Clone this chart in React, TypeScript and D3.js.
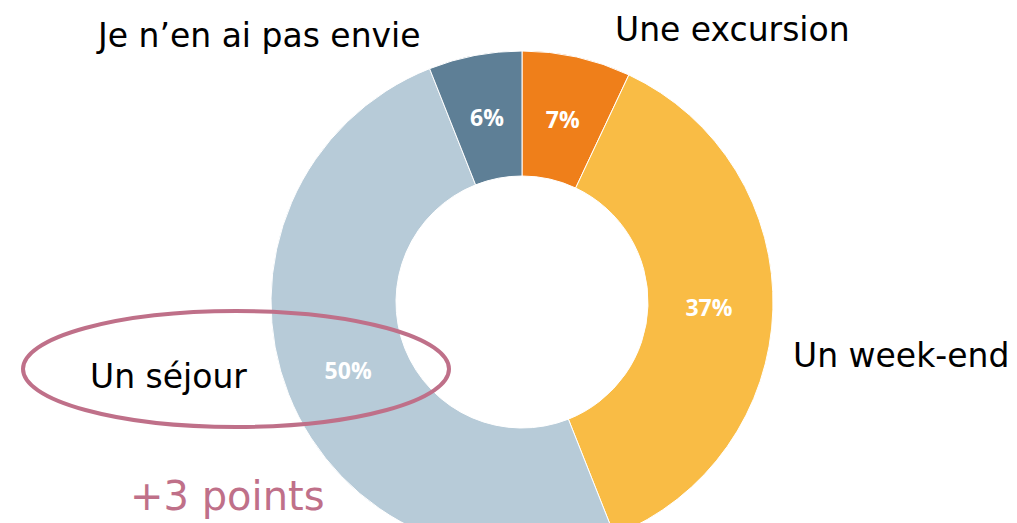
import React from "react";
import * as d3 from "d3";

const categories = ["Une excursion", "Un week-end", "Un séjour", "Je n’en ai pas envie"];
const values = [7, 37, 50, 6];
const colors = ["#EF7F1A", "#F9BC45", "#B7CBD8", "#5E7F96"];

const W = 1017;
const H = 523;
const cx = 522;
const cy = 302;
const outerR = 251;
const innerR = 126;

// category label anchors (text-anchor start)
const labelPos: [number, number][] = [
  [615, 41],
  [793, 367],
  [90, 388],
  [98, 47],
];

export default function App() {
  const pie = d3.pie<number>().sort(null).value((d) => d);
  const arcs = pie(values);
  const arc = d3.arc<d3.PieArcDatum<number>>().innerRadius(innerR).outerRadius(outerR);
  const labelArc = d3.arc<d3.PieArcDatum<number>>().innerRadius(187).outerRadius(187);
  const font = "'DejaVu Sans', Verdana, sans-serif";

  return (
    <svg
      width={W}
      height={H}
      style={{ position: "absolute", left: 0, top: 0, background: "#fff" }}
    >
      <g transform={`translate(${cx},${cy})`}>
        {arcs.map((a, i) => (
          <path key={i} d={arc(a) || ""} fill={colors[i]} stroke="#fff" strokeWidth={1} />
        ))}
        {arcs.map((a, i) => {
          const [x, y] = labelArc.centroid(a);
          return (
            <text
              key={i}
              x={x}
              y={y}
              dy="0.35em"
              textAnchor="middle"
              fill="#fff"
              fontFamily="'Open Sans', sans-serif"
              fontWeight={700}
              fontSize={23}
            >
              {values[i]}%
            </text>
          );
        })}
      </g>
      {categories.map((c, i) => (
        <text
          key={c}
          x={labelPos[i][0]}
          y={labelPos[i][1]}
          fontFamily={font}
          fontSize={33}
          fill="#000"
        >
          {c}
        </text>
      ))}
      <ellipse cx={236} cy={369} rx={213} ry={58} fill="none" stroke="#BF7089" strokeWidth={4} />
      <text x={130} y={510} fontFamily={font} fontSize={40} fill="#BF7089">
        +3 points
      </text>
    </svg>
  );
}
